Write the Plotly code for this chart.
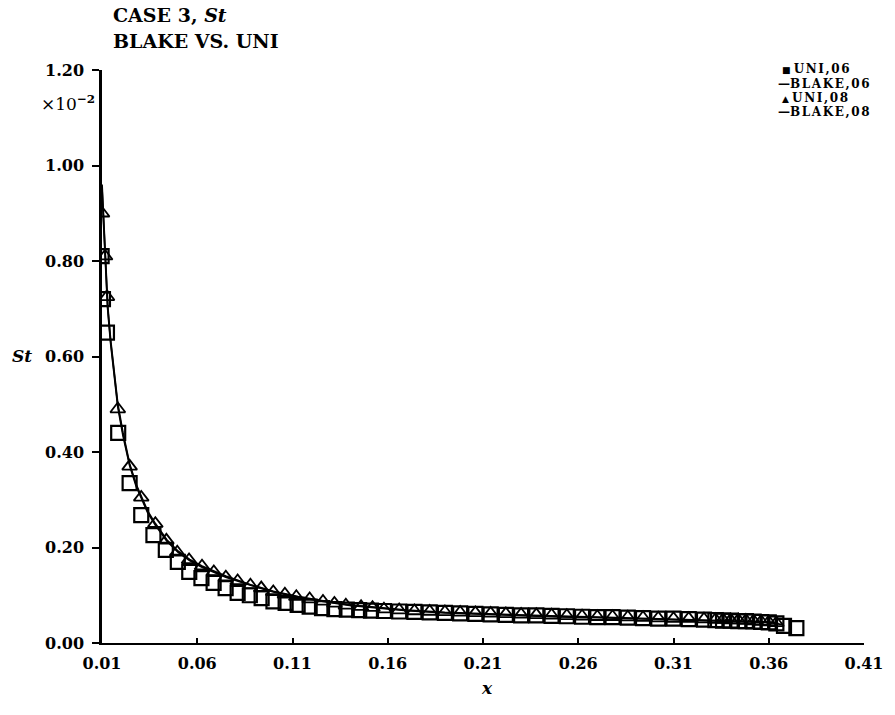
import plotly.graph_objects as go

# ---- data (St values in units of 1e-2) ----
uni06_x = [0.0098, 0.0105, 0.0126, 0.0185, 0.0245, 0.0306, 0.0370, 0.0435, 0.0498, 0.0558,
           0.0622, 0.0686, 0.0749, 0.0812, 0.0876, 0.0938, 0.1000, 0.1064, 0.1127, 0.1190,
           0.1255, 0.1320, 0.1385, 0.1450, 0.1512, 0.1580, 0.1660, 0.1740, 0.1820, 0.1900,
           0.1980, 0.2060, 0.2140, 0.2220, 0.2300, 0.2380, 0.2460, 0.2540, 0.2620, 0.2700,
           0.2780, 0.2860, 0.2940, 0.3020, 0.3100, 0.3180, 0.3260, 0.3320, 0.3360, 0.3400,
           0.3440, 0.3480, 0.3520, 0.3560, 0.3600, 0.3640, 0.3680, 0.3745]
uni06_y = [0.810, 0.720, 0.650, 0.440, 0.335, 0.268, 0.226, 0.195, 0.170, 0.149,
           0.136, 0.126, 0.115, 0.105, 0.100, 0.094, 0.087, 0.084, 0.080, 0.076,
           0.073, 0.071, 0.070, 0.069, 0.068, 0.067, 0.066, 0.065, 0.064, 0.063,
           0.062, 0.061, 0.060, 0.059, 0.058, 0.058, 0.057, 0.056, 0.055, 0.054,
           0.054, 0.053, 0.052, 0.051, 0.051, 0.050, 0.049, 0.048, 0.047, 0.047,
           0.046, 0.046, 0.045, 0.044, 0.043, 0.041, 0.036, 0.031]

uni08_x = [0.0100, 0.0116, 0.0126, 0.0183, 0.0245, 0.0306, 0.0380, 0.0438, 0.0495, 0.0557,
           0.0625, 0.0687, 0.0750, 0.0812, 0.0879, 0.0936, 0.0999, 0.1060, 0.1120, 0.1190,
           0.1260, 0.1320, 0.1380, 0.1460, 0.1520, 0.1580, 0.1660, 0.1740, 0.1820, 0.1900,
           0.1980, 0.2060, 0.2140, 0.2220, 0.2300, 0.2380, 0.2460, 0.2540, 0.2620, 0.2700,
           0.2780, 0.2860, 0.2940, 0.3020, 0.3100, 0.3180, 0.3260, 0.3320, 0.3360, 0.3400,
           0.3440, 0.3480, 0.3520, 0.3560, 0.3600, 0.3640]
uni08_y = [0.900, 0.810, 0.725, 0.490, 0.370, 0.305, 0.250, 0.215, 0.190, 0.174,
           0.161, 0.149, 0.138, 0.130, 0.121, 0.115, 0.107, 0.102, 0.097, 0.092,
           0.087, 0.083, 0.079, 0.076, 0.074, 0.071, 0.069, 0.067, 0.066, 0.065,
           0.064, 0.063, 0.062, 0.061, 0.060, 0.059, 0.058, 0.057, 0.056, 0.055,
           0.055, 0.054, 0.053, 0.052, 0.051, 0.051, 0.050, 0.049, 0.049, 0.048,
           0.048, 0.047, 0.046, 0.045, 0.044, 0.042]

blake06_x = [0.0100, 0.0106, 0.0112, 0.0120, 0.0130, 0.0145, 0.0160, 0.0183, 0.0210, 0.0245,
             0.0280, 0.0306, 0.0340, 0.0380, 0.0440, 0.0500, 0.0560, 0.0625, 0.0690, 0.0750,
             0.0880, 0.1000, 0.1130, 0.1260, 0.1400, 0.1520, 0.1700, 0.1900, 0.2100, 0.2300,
             0.2500, 0.2700, 0.2900, 0.3100, 0.3300, 0.3500, 0.3600, 0.3680]
blake06_y = [0.950, 0.900, 0.830, 0.760, 0.700, 0.630, 0.580, 0.495, 0.435, 0.372,
             0.328, 0.303, 0.273, 0.247, 0.214, 0.190, 0.173, 0.159, 0.148, 0.138,
             0.121, 0.107, 0.096, 0.087, 0.079, 0.074, 0.068, 0.063, 0.060, 0.057,
             0.055, 0.053, 0.051, 0.049, 0.047, 0.045, 0.043, 0.038]

blake08_x = [0.0100, 0.0106, 0.0112, 0.0120, 0.0130, 0.0145, 0.0160, 0.0183, 0.0210, 0.0245,
             0.0280, 0.0306, 0.0340, 0.0380, 0.0440, 0.0500, 0.0560, 0.0625, 0.0690, 0.0750,
             0.0880, 0.1000, 0.1130, 0.1260, 0.1400, 0.1520, 0.1700, 0.1900, 0.2100, 0.2300,
             0.2500, 0.2700, 0.2900, 0.3100, 0.3300, 0.3500, 0.3600, 0.3650]
blake08_y = [0.960, 0.905, 0.835, 0.765, 0.705, 0.635, 0.585, 0.500, 0.440, 0.375,
             0.331, 0.306, 0.276, 0.250, 0.216, 0.192, 0.175, 0.161, 0.150, 0.140,
             0.122, 0.108, 0.097, 0.088, 0.080, 0.075, 0.069, 0.064, 0.061, 0.058,
             0.056, 0.054, 0.052, 0.050, 0.048, 0.046, 0.044, 0.041]

x_ticks = [0.01, 0.06, 0.11, 0.16, 0.21, 0.26, 0.31, 0.36, 0.41]
x_ticktext = ["0.01", "0.06", "0.11", "0.16", "0.21", "0.26", "0.31", "0.36", "0.41"]
y_ticks = [0.0, 0.2, 0.4, 0.6, 0.8, 1.0, 1.2]
y_ticktext = ["0.00", "0.20", "0.40", "0.60", "0.80", "1.00", "1.20"]

legend_labels = ["UNI,06", "BLAKE,06", "UNI,08", "BLAKE,08"]
legend_glyphs = ["\u25a0 ", "\u2014", "\u25b2 ", "\u2014"]

FONT = "DejaVu Serif"
W, H = 895, 715
L, R, T, B = 102, 23, 70, 72
PW, PH = W - L - R, H - T - B


def px(xp):
    return (xp - L) / PW


def py(yp):
    return (H - B - yp) / PH


fig = go.Figure()
fig.add_trace(go.Scatter(x=blake06_x, y=blake06_y, mode="lines", name="BLAKE,06",
                         line=dict(color="black", width=1.8)))
fig.add_trace(go.Scatter(x=blake08_x, y=blake08_y, mode="lines", name="BLAKE,08",
                         line=dict(color="black", width=1.8)))
fig.add_trace(go.Scatter(x=uni06_x, y=uni06_y, mode="markers", name="UNI,06",
                         marker=dict(symbol="square-open", size=14, color="black",
                                     line=dict(color="black", width=2.2))))
fig.add_trace(go.Scatter(x=uni08_x, y=uni08_y, mode="markers", name="UNI,08",
                         marker=dict(symbol="triangle-up-open", size=13, color="black",
                                     line=dict(color="black", width=1.8))))

tickfont = dict(family=FONT, size=16, color="black", weight="bold")
fig.update_xaxes(range=[0.01, 0.41], tickvals=x_ticks, ticktext=x_ticktext,
                 showgrid=False, zeroline=False, showline=True, linecolor="black",
                 linewidth=2, ticks="inside", ticklen=5, tickwidth=1.5, tickcolor="black",
                 tickfont=tickfont, ticklabelstandoff=5)
fig.update_yaxes(range=[0, 1.2], tickvals=y_ticks, ticktext=y_ticktext,
                 showgrid=False, zeroline=False, showline=True, linecolor="black",
                 linewidth=2.5, ticks="outside", ticklen=7, tickwidth=1.5, tickcolor="black",
                 tickfont=tickfont, ticklabelstandoff=5)

ann = []
tf = dict(family=FONT, size=19, color="black", weight="bold")
ann.append(dict(x=px(111), y=py(15), xref="paper", yref="paper", xanchor="left",
                yanchor="middle", showarrow=False, font=tf,
                text="CASE 3, <i>St</i>"))
ann.append(dict(x=px(111), y=py(41), xref="paper", yref="paper", xanchor="left",
                yanchor="middle", showarrow=False, font=tf,
                text="BLAKE VS. UNI"))
ann.append(dict(x=px(97), y=py(103), xref="paper", yref="paper", xanchor="right",
                yanchor="middle", showarrow=False,
                font=dict(family=FONT, size=17, color="black"),
                text="×10<sup><b>−2</b></sup>"))
ann.append(dict(x=px(9), y=py(356), xref="paper", yref="paper", xanchor="left",
                yanchor="middle", showarrow=False,
                font=dict(family=FONT, size=17, color="black", weight="bold"),
                text="<i>St</i>"))
ann.append(dict(x=px(491), y=py(688), xref="paper", yref="paper", xanchor="center",
                yanchor="middle", showarrow=False,
                font=dict(family=FONT, size=17, color="black", weight="bold"),
                text="<i>x</i>"))

lf = dict(family=FONT, size=12, color="black", weight="bold")
row_y = [69, 83.5, 98, 112.5]
row_x = [788, 784, 788, 784]
for g, lab, yy, xx in zip(legend_glyphs, legend_labels, row_y, row_x):
    gsize = 9 if g.strip() != "\u2014" else 12
    ann.append(dict(x=px(xx), y=py(yy), xref="paper", yref="paper", xanchor="left",
                    yanchor="middle", showarrow=False, font=lf,
                    borderpad=0, valign="middle",
                    text=(f"<span style='font-size:{gsize}px'>{g}</span>"
                          f"<span style='letter-spacing:1.6px'>{lab}</span>")))

fig.update_layout(width=W, height=H, margin=dict(l=L, r=R, t=T, b=B),
                  paper_bgcolor="white", plot_bgcolor="white", showlegend=False,
                  annotations=ann)

fig.write_html("out.html")
